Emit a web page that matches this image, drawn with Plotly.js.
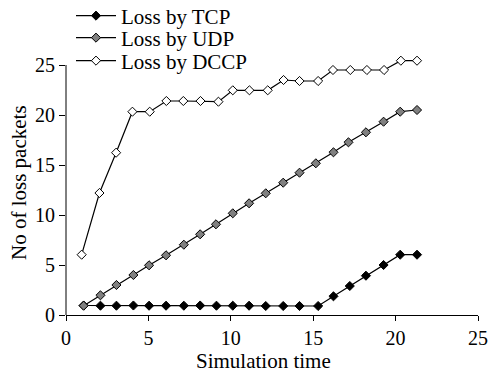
<!DOCTYPE html>
<html>
<head>
<meta charset="utf-8">
<script src="https://cdn.plot.ly/plotly-3.0.1.min.js"></script>
<style>html,body{margin:0;padding:0;background:#fff;}#chart{width:489px;height:372px;}</style>
</head>
<body>
<div id="chart"></div>
<script>
var seriesNames = ["Loss by TCP", "Loss by UDP", "Loss by DCCP"];
var tcpX = [1.07,2.09,3.06,4.09,5.04,6.07,7.15,8.14,9.13,10.12,11.11,12.12,13.18,14.17,15.3,16.23,17.22,18.2,19.27,20.28,21.3];
var tcpY = [0.95,0.93,0.93,0.95,0.93,0.93,0.93,0.95,0.93,0.93,0.93,0.9,0.9,0.9,0.9,1.87,2.9,3.93,5.0,6.03,6.03];
var udpX = [1.07,2.09,3.06,4.09,5.04,6.07,7.15,8.14,9.1,10.12,11.11,12.12,13.18,14.17,15.16,16.23,17.14,18.2,19.27,20.28,21.3];
var udpY = [0.93,1.97,3.0,4.0,4.97,5.97,7.03,8.07,9.07,10.17,11.17,12.17,13.23,14.23,15.17,16.27,17.27,18.27,19.33,20.33,20.5];
var dccpX = [0.95,2.03,3.04,4.03,5.08,6.09,7.12,8.16,9.25,10.12,11.13,12.24,13.2,14.17,15.3,16.2,17.25,18.26,19.3,20.32,21.3];
var dccpY = [6.03,12.2,16.23,20.33,20.33,21.4,21.4,21.4,21.33,22.47,22.47,22.47,23.5,23.4,23.4,24.5,24.5,24.5,24.5,25.43,25.43];
var xTicks = [0,5,10,15,20,25];
var yTicks = [0,5,10,15,20,25];
var xTitle = 'Simulation time';
var yTitle = 'No of loss packets';
var yMax = 25, yTop = 26;

var fnt = "Liberation Serif, Times New Roman, serif";
function tr(x, y, name, fill, leg) {
  return {
    x: x, y: y, name: name, type: 'scatter', mode: 'lines+markers',
    line: {color: '#000', width: 1.2},
    marker: {symbol: 'diamond', size: 7, color: fill, line: {color: '#000', width: 1}},
    legend: leg, cliponaxis: false
  };
}
var data = [
  tr(tcpX, tcpY, seriesNames[0], '#000', 'legend'),
  tr(udpX, udpY, seriesNames[1], '#808080', 'legend2'),
  tr(dccpX, dccpY, seriesNames[2], '#fff', 'legend3')
];
function leg(py) {
  return {xref: 'container', yref: 'container', x: 71 / 489, xanchor: 'left',
    y: 1 - py / 372, yanchor: 'middle', bgcolor: 'rgba(0,0,0,0)',
    borderwidth: 0, itemwidth: 40, font: {family: fnt, size: 21, color: '#000'}};
}
var layout = {
  width: 489, height: 372,
  margin: {l: 66, r: 11, t: 65 - (yTop - yMax) * 10, b: 57, autoexpand: false},
  paper_bgcolor: '#fff', plot_bgcolor: '#fff',
  showlegend: true,
  legend: leg(16), legend2: leg(38), legend3: leg(61),
  font: {family: fnt, size: 20, color: '#000'},
  xaxis: {
    range: [0, 25], tickvals: xTicks, ticktext: xTicks.map(String),
    showgrid: false, zeroline: false, showline: true, linecolor: '#000', linewidth: 1,
    ticks: 'outside', ticklen: 5, tickcolor: '#000',
    tickfont: {family: fnt, size: 20}
  },
  yaxis: {
    range: [0, yTop], tickvals: yTicks, ticktext: yTicks.map(String),
    showgrid: false, zeroline: false, showline: false,
    ticks: 'outside', ticklen: 6, tickcolor: '#000',
    tickfont: {family: fnt, size: 20}
  },
  annotations: [
    {text: xTitle, xref: 'paper', yref: 'paper', x: 0.5, y: 0, xanchor: 'center', yanchor: 'middle',
     xshift: -9, yshift: -46, showarrow: false, font: {family: fnt, size: 21, color: '#000'}},
    {text: yTitle, xref: 'paper', yref: 'y', x: 0, y: yMax / 2, xanchor: 'center', yanchor: 'middle',
     xshift: -47, yshift: 7, textangle: -90, showarrow: false, font: {family: fnt, size: 21, color: '#000'}}
  ],
  shapes: [{type: 'line', xref: 'paper', yref: 'y', x0: 0, x1: 0, y0: 0, y1: yMax,
    line: {color: '#000', width: 1}, layer: 'below'}]
};
Plotly.newPlot('chart', data, layout, {displayModeBar: false, staticPlot: true});
</script>
</body>
</html>
